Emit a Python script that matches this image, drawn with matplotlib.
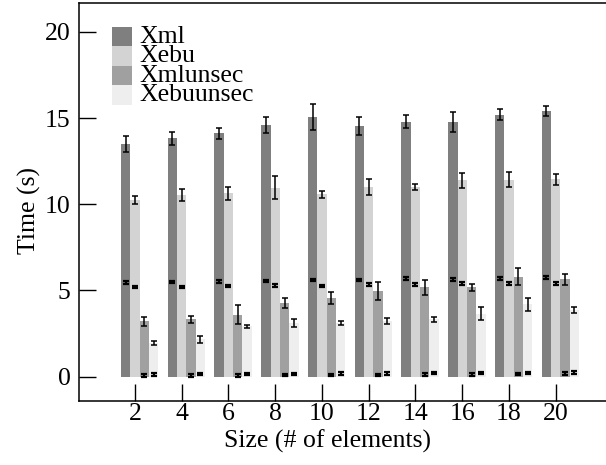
import matplotlib
matplotlib.use("Agg")
import matplotlib.pyplot as plt
import numpy as np
from matplotlib.patches import Rectangle

# ---- data ----
sizes = [2, 4, 6, 8, 10, 12, 14, 16, 18, 20]
series = ["Xml", "Xebu", "Xmlunsec", "Xebuunsec"]
colors = ["#7f7f7f", "#d3d3d3", "#a0a0a0", "#eeeeee"]

xml_total = [13.48, 13.83, 14.12, 14.58, 15.08, 14.56, 14.79, 14.75, 15.20, 15.41]
xml_total_err = [0.46, 0.37, 0.31, 0.46, 0.75, 0.53, 0.37, 0.58, 0.31, 0.29]
xebu_total = [10.25, 10.54, 10.63, 10.96, 10.58, 11.02, 11.00, 11.39, 11.43, 11.45]
xebu_total_err = [0.24, 0.37, 0.39, 0.66, 0.19, 0.46, 0.19, 0.45, 0.43, 0.33]
xmlunsec_total = [3.22, 3.32, 3.60, 4.25, 4.54, 4.98, 5.18, 5.18, 5.80, 5.66]
xmlunsec_total_err = [0.26, 0.22, 0.55, 0.29, 0.34, 0.53, 0.45, 0.19, 0.50, 0.32]
xebuunsec_total = [1.95, 2.16, 2.92, 3.09, 3.09, 3.22, 3.32, 3.65, 4.19, 3.86]
xebuunsec_total_err = [0.12, 0.20, 0.08, 0.24, 0.12, 0.16, 0.14, 0.39, 0.36, 0.15]

xml_part = [5.45, 5.49, 5.51, 5.54, 5.62, 5.62, 5.68, 5.64, 5.70, 5.74]
xebu_part = [5.18, 5.21, 5.25, 5.29, 5.25, 5.35, 5.35, 5.39, 5.41, 5.41]
xmlunsec_part = [0.05, 0.06, 0.07, 0.08, 0.09, 0.10, 0.12, 0.13, 0.15, 0.17]
xebuunsec_part = [0.13, 0.14, 0.15, 0.16, 0.17, 0.18, 0.19, 0.21, 0.22, 0.24]
part_err = [0.07, 0.07, 0.07, 0.07, 0.07, 0.07, 0.07, 0.07, 0.07, 0.07]

totals = [xml_total, xebu_total, xmlunsec_total, xebuunsec_total]
totals_err = [xml_total_err, xebu_total_err, xmlunsec_total_err, xebuunsec_total_err]
parts = [xml_part, xebu_part, xmlunsec_part, xebuunsec_part]

plt.rcParams["font.family"] = ["Liberation Serif", "DejaVu Serif"]
FS = 18.5

W, H = 606, 465
fig = plt.figure(figsize=(W / 100, H / 100), dpi=100)
ax = fig.add_axes([79 / W, 1 - 401 / H, 527 / W, 398.5 / H])

x = np.array(sizes, dtype=float)
width = 0.4
offsets = [-0.4, 0.0, 0.4, 0.8]
ebkw = dict(fmt="none", ecolor="black", elinewidth=1.1, capsize=2.4, capthick=1.1, zorder=4)
for i in range(len(series)):
    xs = x + offsets[i]
    ax.bar(xs, totals[i], width=width, color=colors[i], linewidth=0, zorder=2)
    ax.bar(xs, parts[i], width=width, color=colors[i], linewidth=0, zorder=3)
    ax.errorbar(xs, totals[i], yerr=totals_err[i], **ebkw)
    ax.errorbar(xs, parts[i], yerr=part_err, **dict(ebkw, elinewidth=1.6, capthick=1.6))

ax.set_xlim(-0.396, 22.154)
ax.set_ylim(-1.42, 21.71)
ax.set_xticks(sizes)
ax.set_yticks([0, 5, 10, 15, 20])
ax.tick_params(axis="both", direction="in", length=12.5, width=1.0, labelsize=FS)
ax.tick_params(axis="y", pad=6)
ax.tick_params(axis="x", pad=1.5)
for s in ["left", "top", "bottom"]:
    ax.spines[s].set_linewidth(1.1)
ax.spines["right"].set_visible(False)

ax.set_xlabel("Size (# of elements)", fontsize=FS)
ax.set_ylabel("Time (s)", fontsize=FS)
ax.xaxis.set_label_coords((328 - 79) / 527, -(430 - 401) / 398.5)
ax.yaxis.set_label_coords(-(79 - 41) / 527, (401 - 210) / 398.5)

# legend drawn by hand: contiguous swatches, tight rows
rows = [27, 46.5, 66, 85.5, 105]
for i, name in enumerate(series):
    y0, y1 = rows[i], rows[i + 1]
    fig.add_artist(Rectangle((111.7 / W, 1 - y1 / H), 20 / W, (y1 - y0) / H,
                             transform=fig.transFigure, color=colors[i], linewidth=0))
    fig.text(139 / W, 1 - (y0 + y1) / 2 / H, name, fontsize=FS, va="center", ha="left")

fig.savefig("out.png", dpi=100)
